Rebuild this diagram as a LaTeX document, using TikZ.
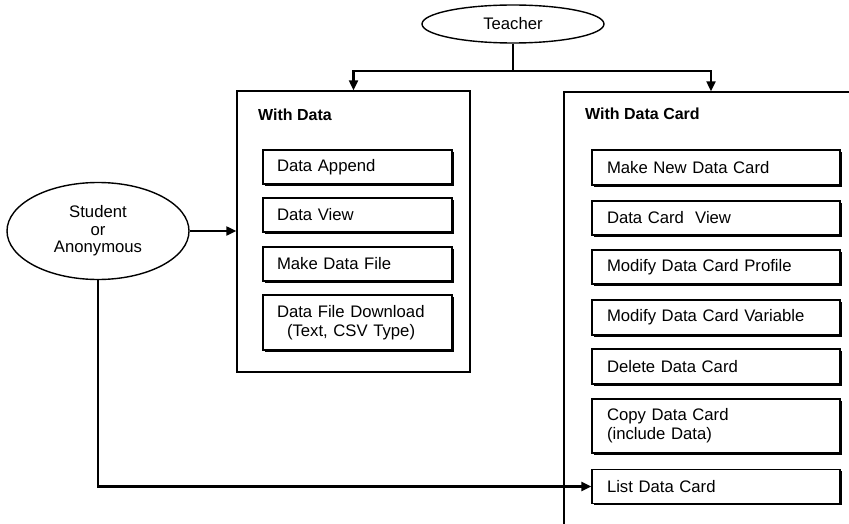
\documentclass[tikz,border=0pt]{standalone}
\usepackage{fontspec}
\setmainfont{Liberation Sans}
\usetikzlibrary{arrows.meta,shapes.geometric,shadows}
\begin{document}
\begin{tikzpicture}[x=1pt,y=-1pt,
  font=\fontsize{16.7}{19}\selectfont,
  shadowed/.style={drop shadow={shadow xshift=1.8pt,shadow yshift=-1.8pt,fill=black,opacity=1}},
  lbox/.style={draw,line width=1.2pt,fill=white,rectangle,minimum width=189pt,text width=161pt,inner xsep=14pt,inner ysep=0pt,align=left,shadowed},
  rbox/.style={draw,line width=1.2pt,fill=white,rectangle,minimum width=248pt,text width=218pt,inner xsep=15pt,inner ysep=0pt,align=left,shadowed},
  frame/.style={draw,line width=1.4pt,rectangle,inner sep=0pt},
  actor/.style={draw,line width=1.4pt,ellipse,inner sep=0pt,align=center,font=\fontsize{16.7}{17.5}\selectfont},
  head/.style={anchor=west,inner sep=0pt,font=\fontsize{16}{19}\selectfont\bfseries},
  arr/.style={line width=2.2pt,-{Triangle[length=10pt,width=9pt]}},
  conn/.style={line width=2.2pt}
]
\clip (0,0) rectangle (849,524);
\fill[white] (0,0) rectangle (849,524);

% actors
\node[actor,minimum width=182pt,minimum height=38pt] (teacher) at (513,24) {Teacher};
\node[actor,minimum width=182pt,minimum height=97pt] (student) at (98,231) {Student\\or\\Anonymous};

% group frames
\node[frame,minimum width=233pt,minimum height=281pt] (withdata) at (353.5,231.5) {};
\node[frame,minimum width=294pt,minimum height=450pt] (withcard) at (711,317) {};
\node[head] (hd) at (258,115) {With Data};
\node[head] (hc) at (585,114) {With Data Card};

% With Data items
\node[lbox,minimum height=34pt] (d1) at (357.5,167) {Data Append};
\node[lbox,minimum height=34pt] (d2) at (357.5,215) {Data View};
\node[lbox,minimum height=34pt] (d3) at (357.5,264) {Make Data File};
\node[lbox,minimum height=55pt] (d4) at (357.5,322.5) {Data File Download\\\hspace*{10pt}(Text, CSV Type)};

% With Data Card items
\node[rbox,minimum height=35pt] (c1) at (716,167.5) {Make New Data Card};
\node[rbox,minimum height=34pt] (c2) at (716,218) {Data Card\ \ View};
\node[rbox,minimum height=34pt] (c3) at (716,267) {Modify Data Card Profile};
\node[rbox,minimum height=35pt] (c4) at (716,317.5) {Modify Data Card Variable};
\node[rbox,minimum height=35pt] (c5) at (716,366.5) {Delete Data Card};
\node[rbox,minimum height=54pt] (c6) at (716,426) {Copy Data Card\\(include Data)};
\node[rbox,minimum height=34pt] (c7) at (716,486.5) {List Data Card};

% connectors
\draw[conn] (teacher.south) -- ++(0,27) coordinate (j);
\draw[arr] (j) -| (withdata.north);
\draw[arr] (j) -| (withcard.north);
\draw[arr] (student.east) -- (student.east -| withdata.west);
\draw[arr] (student.south) |- (c7.west);
\end{tikzpicture}
\end{document}
